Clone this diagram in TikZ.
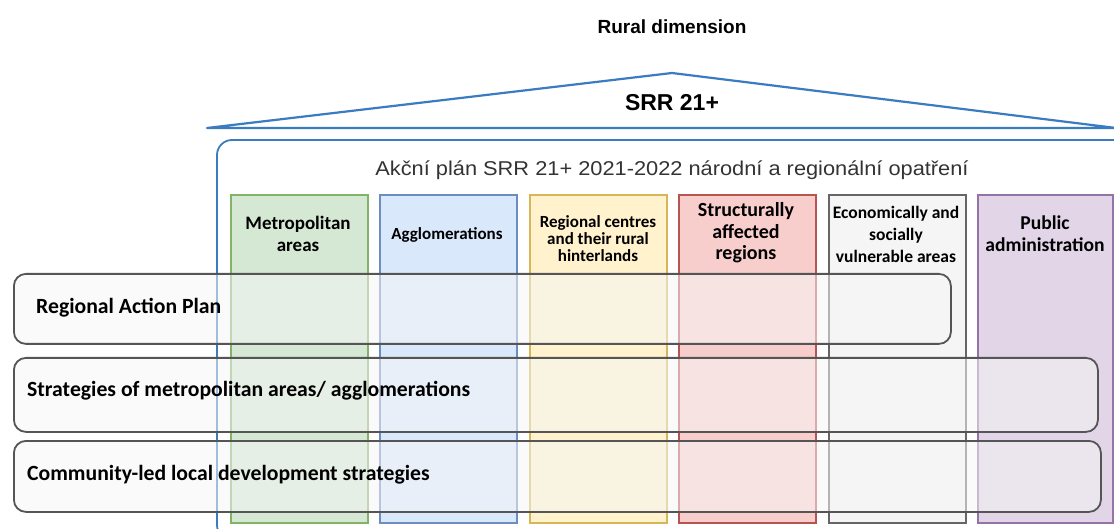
\documentclass[tikz,border=0pt]{standalone}
\usepackage{fontspec}
\setmainfont{Liberation Sans}
\newfontfamily\calfont{Carlito}
\definecolor{frameblue}{HTML}{3B7BC0}
\definecolor{greenfill}{HTML}{D5E8D4}\definecolor{greenline}{HTML}{82B366}
\definecolor{bluefill}{HTML}{DAE8FC}\definecolor{blueline}{HTML}{6C8EBF}
\definecolor{yellowfill}{HTML}{FFF2CC}\definecolor{yellowline}{HTML}{D6B656}
\definecolor{redfill}{HTML}{F8CECC}\definecolor{redline}{HTML}{B85450}
\definecolor{grayfill}{HTML}{F5F5F5}\definecolor{grayline}{HTML}{666666}
\definecolor{purplefill}{HTML}{E1D5E7}\definecolor{purpleline}{HTML}{9673A6}
\definecolor{rowline}{HTML}{555555}
\begin{document}
\begin{tikzpicture}[x=1pt,y=-1pt,
  colbox/.style={rectangle, anchor=north west, inner sep=0pt, line width=1.6pt,
    minimum width=137pt, minimum height=328pt},
  collabel/.style={align=center, inner sep=0pt},
  rowbox/.style={rectangle, rounded corners=12pt, anchor=north west, inner sep=0pt,
    draw=rowline, line width=1.8pt, fill=grayfill, fill opacity=0.55},
  rowlabel/.style={anchor=west, font=\calfont\bfseries\fontsize{21.7}{24}\selectfont, inner sep=0pt},
  headline/.style={inner sep=0pt}]
\useasboundingbox (0,0) rectangle (1114,529);
\clip (0,0) rectangle (1114,529);

% heading above the roof
\node[headline, font=\bfseries\fontsize{19}{22}\selectfont] (rural) at (672,27) {Rural dimension};

% roof
\coordinate (roofL) at (207,128);
\coordinate (apex) at (672,73);
\coordinate (roofR) at (1116,128);
\draw[frameblue, line width=2.2pt, line join=round] (roofL) -- (apex) -- (roofR) -- cycle;
\node[headline, font=\bfseries\fontsize{23}{26}\selectfont] (srr) at (672,103) {SRR 21+};

% outer frame
\draw[frameblue, line width=1.8pt, rounded corners=15pt] (217,140) rectangle (1135,540);
\node[inner sep=0pt, text=black!80, xscale=1.09, font=\fontsize{20}{23}\selectfont] (plan) at (672,170)
  {Akční plán SRR 21+ 2021-2022 národní a regionální opatření};

% columns
\node[colbox, draw=greenline, fill=greenfill] (c1) at (230,194) {};
\node[colbox, draw=blueline, fill=bluefill] (c2) at (379,194) {};
\node[colbox, draw=yellowline, fill=yellowfill] (c3) at (529,194) {};
\node[colbox, draw=redline, fill=redfill] (c4) at (678,194) {};
\node[colbox, draw=grayline, fill=grayfill] (c5) at (828,194) {};
\node[colbox, draw=purpleline, fill=purplefill, minimum width=135pt] (c6) at (977,194) {};

\node[collabel, font=\calfont\bfseries\fontsize{19}{22}\selectfont] (l1) at (298,234) {Metropolitan\\areas};
\node[collabel, font=\calfont\bfseries\fontsize{17}{20}\selectfont] (l2) at (447,235) {Agglomerations};
\node[collabel, font=\calfont\bfseries\fontsize{17}{17}\selectfont] (l3) at (598,239) {Regional centres\\and their rural\\hinterlands};
\node[collabel, font=\calfont\bfseries\fontsize{20}{21.5}\selectfont] (l4) at (746,233) {Structurally\\affected\\regions};
\node[collabel, font=\calfont\bfseries\fontsize{17.5}{22}\selectfont] (l5) at (896,234) {Economically and\\socially\\vulnerable areas};
\node[collabel, font=\calfont\bfseries\fontsize{19.6}{22}\selectfont] (l6) at (1045,234) {Public\\administration};

% rows
\node[rowbox, minimum width=937pt, minimum height=70pt] (r1) at (13,273) {};
\node[rowbox, minimum width=1084pt, minimum height=74pt] (r2) at (13,357) {};
\node[rowbox, minimum width=1087pt, minimum height=71pt] (r3) at (13,440) {};
\node[rowlabel] (t1) at (36,308) {Regional Action Plan};
\node[rowlabel] (t2) at (27,391) {Strategies of metropolitan areas/ agglomerations};
\node[rowlabel] (t3) at (27,475) {Community-led local development strategies};
\end{tikzpicture}
\end{document}
